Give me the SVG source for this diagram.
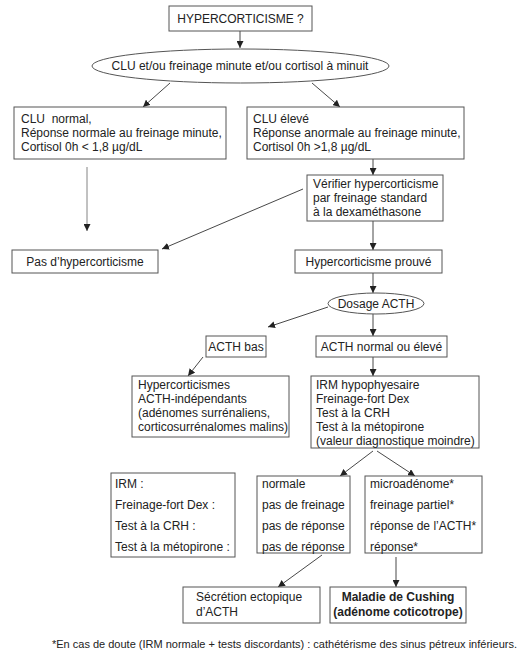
<svg xmlns="http://www.w3.org/2000/svg" width="525" height="661" viewBox="0 0 525 661">
<defs>
<marker id="ah" viewBox="0 0 10 10" refX="10" refY="5" markerWidth="7" markerHeight="7" markerUnits="userSpaceOnUse" orient="auto">
<path d="M0,0 L10,5 L0,10 z" fill="#222"/>
</marker>
<style>
.b{fill:#fff;stroke:#555;stroke-width:1}
.t{font-family:"Liberation Sans",Arial,sans-serif;font-size:12px;fill:#222}
.c{text-anchor:middle}
.bd{font-weight:bold}
.l{stroke:#333;stroke-width:0.9;fill:none;marker-end:url(#ah)}
.g{stroke:#777}
</style>
</defs>
<rect width="525" height="661" fill="#fff"/>
<g id="connectors">
<line class="l" x1="240" y1="31" x2="240" y2="48"/>
<line class="l" x1="170" y1="83" x2="143" y2="107"/>
<line class="l" x1="312" y1="83" x2="340" y2="107"/>
<line class="l g" x1="87" y1="167" x2="87" y2="231"/>
<line class="l" x1="373" y1="159" x2="373" y2="175"/>
<line class="l" x1="303" y1="189" x2="162" y2="249"/>
<line class="l" x1="373" y1="221" x2="373" y2="250"/>
<line class="l" x1="373" y1="273" x2="373" y2="293"/>
<line class="l" x1="328" y1="307" x2="268" y2="327"/>
<line class="l" x1="373" y1="314" x2="373" y2="336"/>
<line class="l" x1="203" y1="357" x2="188" y2="376"/>
<line class="l" x1="373" y1="357" x2="373" y2="376"/>
<line class="l" x1="373" y1="451" x2="340" y2="476"/>
<line class="l" x1="377" y1="451" x2="415" y2="476"/>
<line class="l" x1="322" y1="555" x2="278" y2="587"/>
<line class="l" x1="396" y1="557" x2="396" y2="587"/>
</g>
<g id="n-hyper">
<rect class="b" x="169" y="6" width="143" height="25"/>
<text class="t c" x="240.5" y="23">HYPERCORTICISME ?</text>
</g>
<g id="n-clu">
<ellipse class="b" cx="240.5" cy="66" rx="148.5" ry="17"/>
<text class="t c" x="240" y="70">CLU et/ou freinage minute et/ou cortisol à minuit</text>
</g>
<g id="n-normal">
<rect class="b" x="14" y="107" width="212" height="52"/>
<text class="t" x="21" y="123" xml:space="preserve">CLU  normal,</text>
<text class="t" x="21" y="137">Réponse normale au freinage minute,</text>
<text class="t" x="21" y="151">Cortisol 0h &lt; 1,8 µg/dL</text>
</g>
<g id="n-eleve">
<rect class="b" x="247" y="107" width="217" height="52"/>
<text class="t" x="253" y="123">CLU élevé</text>
<text class="t" x="253" y="137">Réponse anormale au freinage minute,</text>
<text class="t" x="253" y="151">Cortisol 0h &gt;1,8 µg/dL</text>
</g>
<g id="n-verifier">
<rect class="b" x="307" y="175" width="136" height="46"/>
<text class="t" x="313" y="188">Vérifier hypercorticisme</text>
<text class="t" x="313" y="202">par freinage standard</text>
<text class="t" x="313" y="216">à la dexaméthasone</text>
</g>
<g id="n-pas">
<rect class="b" x="12" y="250" width="146" height="23"/>
<text class="t c" x="85" y="266">Pas d’hypercorticisme</text>
</g>
<g id="n-prouve">
<rect class="b" x="295" y="250" width="147" height="23"/>
<text class="t c" x="368.5" y="266">Hypercorticisme prouvé</text>
</g>
<g id="n-dosage">
<ellipse class="b" cx="376" cy="303.5" rx="48" ry="10.5"/>
<text class="t c" x="376" y="308">Dosage ACTH</text>
</g>
<g id="n-acthbas">
<rect class="b" x="206" y="336" width="60" height="21"/>
<text class="t c" x="236" y="351">ACTH bas</text>
</g>
<g id="n-acthnormal">
<rect class="b" x="316" y="336" width="131" height="21"/>
<text class="t c" x="381.5" y="351">ACTH normal ou élevé</text>
</g>
<g id="n-independant">
<rect class="b" x="132" y="376" width="157" height="61"/>
<text class="t" x="138" y="389">Hypercorticismes</text>
<text class="t" x="138" y="403">ACTH-indépendants</text>
<text class="t" x="138" y="417">(adénomes surrénaliens,</text>
<text class="t" x="138" y="431">corticosurrénalomes malins)</text>
</g>
<g id="n-irmhypo">
<rect class="b" x="311" y="376" width="168" height="72"/>
<text class="t" x="316" y="389">IRM hypophyesaire</text>
<text class="t" x="316" y="403">Freinage-fort Dex</text>
<text class="t" x="316" y="417">Test à la CRH</text>
<text class="t" x="316" y="431">Test à la métopirone</text>
<text class="t" x="316" y="445">(valeur diagnostique moindre)</text>
</g>
<g id="n-irm">
<rect class="b" x="111" y="473" width="124" height="84"/>
<text class="t" x="115" y="488">IRM :</text>
<text class="t" x="115" y="509">Freinage-fort Dex :</text>
<text class="t" x="115" y="530">Test à la CRH :</text>
<text class="t" x="115" y="551">Test à la métopirone :</text>
</g>
<g id="n-normale">
<rect class="b" x="257" y="476" width="93" height="77"/>
<text class="t" x="262" y="488">normale</text>
<text class="t" x="262" y="509">pas de freinage</text>
<text class="t" x="262" y="530">pas de réponse</text>
<text class="t" x="262" y="551">pas de réponse</text>
</g>
<g id="n-micro">
<rect class="b" x="365" y="476" width="117" height="77"/>
<text class="t" x="370" y="488">microadénome*</text>
<text class="t" x="370" y="509">freinage partiel*</text>
<text class="t" x="370" y="530">réponse de l’ACTH*</text>
<text class="t" x="370" y="551">réponse*</text>
</g>
<g id="n-ectopique">
<rect class="b" x="183" y="587" width="137" height="36"/>
<text class="t" x="196" y="601">Sécrétion ectopique</text>
<text class="t" x="196" y="616">d’ACTH</text>
</g>
<g id="n-cushing">
<rect class="b" x="330" y="587" width="136" height="36"/>
<text class="t c bd" x="398" y="601">Maladie de Cushing</text>
<text class="t c bd" x="398" y="616">(adénome coticotrope)</text>
</g>
<text class="t" x="52" y="648" style="font-size:11px">*En cas de doute (IRM normale + tests discordants) : cathétérisme des sinus pétreux inférieurs.</text>
</svg>
